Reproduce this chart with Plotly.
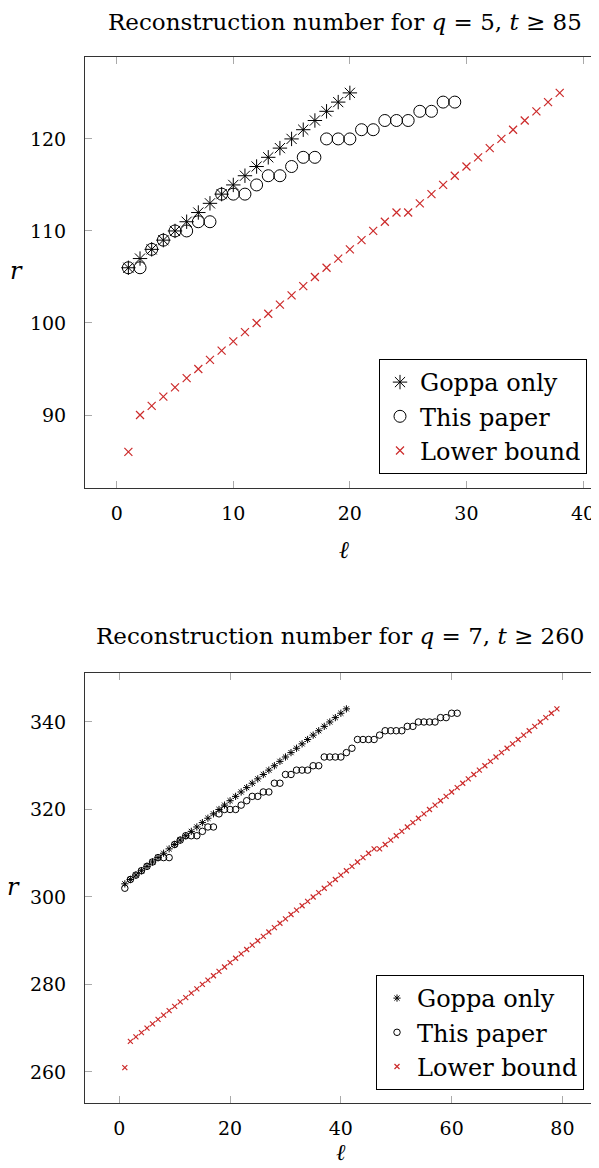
import plotly.graph_objects as go

# ---------------- data: q = 5, t >= 85 ----------------
top_ell_goppa = [1, 2, 3, 4, 5, 6, 7, 8, 9, 10, 11, 12, 13, 14, 15, 16, 17, 18, 19, 20]
top_r_goppa = [106, 107, 108, 109, 110, 111, 112, 113, 114, 115, 116, 117, 118, 119, 120,
               121, 122, 123, 124, 125]

top_ell_paper = [1, 2, 3, 4, 5, 6, 7, 8, 9, 10, 11, 12, 13, 14, 15, 16, 17, 18, 19, 20,
                 21, 22, 23, 24, 25, 26, 27, 28, 29]
top_r_paper = [106, 106, 108, 109, 110, 110, 111, 111, 114, 114, 114, 115, 116, 116, 117,
               118, 118, 120, 120, 120, 121, 121, 122, 122, 122, 123, 123, 124, 124]

top_ell_lower = [1, 2, 3, 4, 5, 6, 7, 8, 9, 10, 11, 12, 13, 14, 15, 16, 17, 18, 19, 20,
                 21, 22, 23, 24, 25, 26, 27, 28, 29, 30, 31, 32, 33, 34, 35, 36, 37, 38]
top_r_lower = [86, 90, 91, 92, 93, 94, 95, 96, 97, 98, 99, 100, 101, 102, 103, 104, 105,
               106, 107, 108, 109, 110, 111, 112, 112, 113, 114, 115, 116, 117, 118, 119,
               120, 121, 122, 123, 124, 125]

top_xticks = [0, 10, 20, 30, 40]
top_yticks = [90, 100, 110, 120]

# ---------------- data: q = 7, t >= 260 ----------------
bot_ell_goppa = [1, 2, 3, 4, 5, 6, 7, 8, 9, 10, 11, 12, 13, 14, 15, 16, 17, 18, 19, 20,
                 21, 22, 23, 24, 25, 26, 27, 28, 29, 30, 31, 32, 33, 34, 35, 36, 37, 38,
                 39, 40, 41]
bot_r_goppa = [303, 304, 305, 306, 307, 308, 309, 310, 311, 312, 313, 314, 315, 316, 317,
               318, 319, 320, 321, 322, 323, 324, 325, 326, 327, 328, 329, 330, 331, 332,
               333, 334, 335, 336, 337, 338, 339, 340, 341, 342, 343]

bot_ell_paper = [1, 2, 3, 4, 5, 6, 7, 8, 9, 10, 11, 12, 13, 14, 15, 16, 17, 18, 19, 20,
                 21, 22, 23, 24, 25, 26, 27, 28, 29, 30, 31, 32, 33, 34, 35, 36, 37, 38,
                 39, 40, 41, 42, 43, 44, 45, 46, 47, 48, 49, 50, 51, 52, 53, 54, 55, 56,
                 57, 58, 59, 60, 61]
bot_r_paper = [302, 304, 305, 306, 307, 308, 309, 309, 309, 312,
               313, 314, 314, 314, 315, 316, 316, 319, 320, 320,
               320, 321, 322, 323, 323, 324, 324, 326, 326, 328,
               328, 329, 329, 329, 330, 330, 332, 332, 332, 332,
               333, 334, 336, 336, 336, 336, 337, 338, 338, 338,
               338, 339, 339, 340, 340, 340, 340, 341, 341, 342, 342]

bot_ell_lower = [1, 2, 3, 4, 5, 6, 7, 8, 9, 10, 11, 12, 13, 14, 15, 16, 17, 18, 19, 20,
                 21, 22, 23, 24, 25, 26, 27, 28, 29, 30, 31, 32, 33, 34, 35, 36, 37, 38,
                 39, 40, 41, 42, 43, 44, 45, 46, 47, 48, 49, 50, 51, 52, 53, 54, 55, 56,
                 57, 58, 59, 60, 61, 62, 63, 64, 65, 66, 67, 68, 69, 70, 71, 72, 73, 74,
                 75, 76, 77, 78, 79]
bot_r_lower = [261, 267, 268, 269, 270, 271, 272, 273, 274, 275, 276, 277, 278, 279, 280,
               281, 282, 283, 284, 285, 286, 287, 288, 289, 290, 291, 292, 293, 294, 295,
               296, 297, 298, 299, 300, 301, 302, 303, 304, 305, 306, 307, 308, 309, 310,
               311, 311, 312, 313, 314, 315, 316, 317, 318, 319, 320, 321, 322, 323, 324,
               325, 326, 327, 328, 329, 330, 331, 332, 333, 334, 335, 336, 337, 338, 339,
               340, 341, 342, 343]

bot_xticks = [0, 20, 40, 60, 80]
bot_yticks = [260, 280, 300, 320, 340]

series_names = ["Goppa only", "This paper", "Lower bound"]
titles = ["Reconstruction number for <i>q</i> = 5, <i>t</i> ≥ 85",
          "Reconstruction number for <i>q</i> = 7, <i>t</i> ≥ 260"]

# ---------------- figure ----------------
# the page body has an 8px margin, so the figure is placed at (8, 8) on screen
OFF = 8
W, H = 599 - OFF, 1168 - OFF
FONT = "DejaVu Serif"
RED = "#cc2a2a"


def px(x):
    return (x - OFF) / W


def py(y):
    return 1 - (y - OFF) / H


fig = go.Figure()


def add_panel(xref, yref, legend, data, big):
    (eg, rg), (ep, rp), (el, rl) = data
    s_ast, s_circ, s_x = (12, 12, 8) if big else (6, 6.5, 5)
    fig.add_trace(go.Scatter(x=eg, y=rg, mode="markers", name=series_names[0],
                             xaxis=xref, yaxis=yref, legend=legend,
                             marker=dict(symbol="asterisk-open", size=s_ast, color="black",
                                         line=dict(color="black", width=1))))
    fig.add_trace(go.Scatter(x=ep, y=rp, mode="markers", name=series_names[1],
                             xaxis=xref, yaxis=yref, legend=legend,
                             marker=dict(symbol="circle-open", size=s_circ, color="black",
                                         line=dict(color="black", width=1))))
    fig.add_trace(go.Scatter(x=el, y=rl, mode="markers", name=series_names[2],
                             xaxis=xref, yaxis=yref, legend=legend,
                             marker=dict(symbol="x-thin-open", size=s_x, color=RED,
                                         line=dict(color=RED, width=1.2))))


add_panel("x", "y", "legend",
          [(top_ell_goppa, top_r_goppa), (top_ell_paper, top_r_paper),
           (top_ell_lower, top_r_lower)], True)
add_panel("x2", "y2", "legend2",
          [(bot_ell_goppa, bot_r_goppa), (bot_ell_paper, bot_r_paper),
           (bot_ell_lower, bot_r_lower)], False)

axis_common = dict(showline=True, linecolor="#333", linewidth=1, mirror="ticks",
                   ticks="inside", ticklen=7, tickcolor="#aaa", tickwidth=1,
                   showgrid=False, zeroline=False,
                   tickfont=dict(family=FONT, size=19, color="black"))

fig.update_layout(
    width=W, height=H,
    margin=dict(l=0, r=0, t=0, b=0),
    plot_bgcolor="white", paper_bgcolor="white",
    showlegend=True,
    xaxis=dict(domain=[px(85), 1], range=[-2.72, 41.37], tickvals=top_xticks,
               anchor="y", ticklabelstandoff=8, **axis_common),
    yaxis=dict(domain=[py(488), py(57)], range=[82.07, 128.9], tickvals=top_yticks,
               anchor="x", ticklabelstandoff=14, **axis_common),
    xaxis2=dict(domain=[px(85), 1], range=[-6.19, 86.6], tickvals=bot_xticks,
                anchor="y2", ticklabelstandoff=8, **axis_common),
    yaxis2=dict(domain=[py(1103), py(673)], range=[252.9, 351.2], tickvals=bot_yticks,
                anchor="x2", ticklabelstandoff=14, **axis_common),
    legend=dict(x=px(587), xanchor="right", y=py(474), yanchor="bottom",
                bgcolor="white", bordercolor="black", borderwidth=1,
                font=dict(family=FONT, size=24, color="black"),
                itemsizing="trace", tracegroupgap=0, itemwidth=30),
    legend2=dict(x=px(584), xanchor="right", y=py(1090), yanchor="bottom",
                 bgcolor="white", bordercolor="black", borderwidth=1,
                 font=dict(family=FONT, size=24, color="black"),
                 itemsizing="trace", tracegroupgap=0, itemwidth=30),
)

annos = [
    dict(text=titles[0], x=px(345), y=py(22), size=23),
    dict(text=titles[1], x=px(340), y=py(636), size=23),
    dict(text="<i>r</i>", x=px(16), y=py(271), size=24),
    dict(text="<i>r</i>", x=px(13), y=py(887), size=24),
    dict(text="<i>ℓ</i>", x=px(344), y=py(550), size=24),
    dict(text="<i>ℓ</i>", x=px(341), y=py(1152), size=23),
]
for a in annos:
    fig.add_annotation(text=a["text"], x=a["x"], y=a["y"], xref="paper", yref="paper",
                       xanchor="center", yanchor="middle", showarrow=False,
                       font=dict(family=FONT, size=a["size"], color="black"))

fig.write_html("out.html")
